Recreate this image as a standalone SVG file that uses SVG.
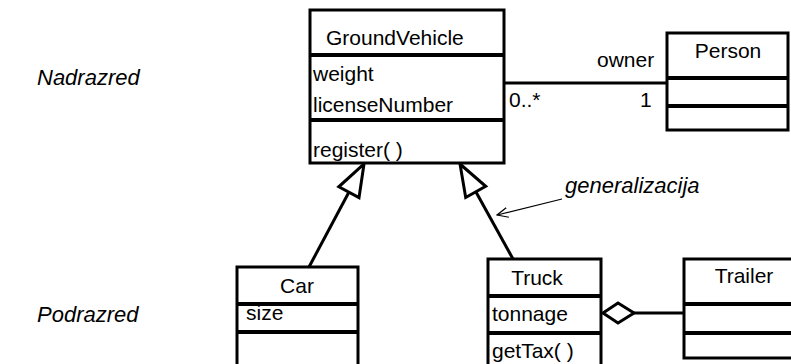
<svg xmlns="http://www.w3.org/2000/svg" width="791" height="364" viewBox="0 0 791 364">
<defs>
<style>
text{font-family:"Liberation Sans",Arial,sans-serif;font-size:21px;fill:#000}
.lbl{font-style:italic;font-size:22px}
.box{fill:#fff;stroke:#000;stroke-width:3}
.div{stroke:#000;stroke-width:4}
.ln{stroke:#000;stroke-width:3;fill:none}
.tri{fill:#fff;stroke:#000;stroke-width:3;stroke-linejoin:miter}
.thin{stroke:#000;stroke-width:1.2;fill:none}
</style>
<marker id="open" viewBox="0 0 12 12" refX="11" refY="6" markerWidth="12" markerHeight="12" markerUnits="userSpaceOnUse" orient="auto">
<path d="M0,1 L11,6 L0,11" fill="none" stroke="#000" stroke-width="1.2"/>
</marker>
</defs>
<rect width="791" height="364" fill="#fff"/>
<text class="lbl" x="37" y="85">Nadrazred</text>
<text class="lbl" x="37" y="322">Podrazred</text>
<g id="connectors">
<line class="ln" x1="504" y1="83" x2="667" y2="83"/>
<text x="597" y="67">owner</text>
<text x="509" y="107">0..*</text>
<text x="640" y="107">1</text>
<line class="ln" x1="349" y1="192" x2="309" y2="267"/>
<polygon class="tri" points="364,164 359,197.6 338.8,186.8"/>
<line class="ln" x1="476" y1="192" x2="513" y2="259"/>
<polygon class="tri" points="460,164 485.7,186.3 465.7,197.5"/>
<line class="ln" x1="634" y1="313" x2="684" y2="313"/>
<polygon class="tri" points="603,313 618,303 634,313 618,323"/>
<line class="thin" x1="562" y1="199" x2="497" y2="215" marker-end="url(#open)"/>
<text class="lbl" x="565" y="193">generalizacija</text>
</g>
<g id="GroundVehicle">
<rect class="box" x="310" y="10" width="194" height="153"/>
<line class="div" x1="310" y1="55" x2="504" y2="55"/>
<line class="div" x1="310" y1="120" x2="504" y2="120"/>
<text x="326" y="45">GroundVehicle</text>
<text x="313" y="81">weight</text>
<text x="313" y="112">licenseNumber</text>
<text x="313" y="157">register( )</text>
</g>
<g id="Person">
<rect class="box" x="667" y="33" width="121" height="97"/>
<line class="div" x1="667" y1="78" x2="788" y2="78"/>
<line class="div" x1="667" y1="106" x2="788" y2="106"/>
<text x="728" y="58" text-anchor="middle">Person</text>
</g>
<g id="Car">
<rect class="box" x="237" y="267" width="121" height="100"/>
<line class="div" x1="237" y1="304" x2="358" y2="304"/>
<line class="div" x1="237" y1="332" x2="358" y2="332"/>
<text x="297" y="293" text-anchor="middle">Car</text>
<text x="246" y="320">size</text>
</g>
<g id="Truck">
<rect class="box" x="488" y="259" width="113" height="108"/>
<line class="div" x1="488" y1="296" x2="601" y2="296"/>
<line class="div" x1="488" y1="333" x2="601" y2="333"/>
<text x="537" y="285" text-anchor="middle">Truck</text>
<text x="492" y="321">tonnage</text>
<text x="492" y="358">getTax( )</text>
</g>
<g id="Trailer">
<rect class="box" x="684" y="259" width="122" height="99"/>
<line class="div" x1="684" y1="304" x2="806" y2="304"/>
<line class="div" x1="684" y1="333" x2="806" y2="333"/>
<text x="744" y="283" text-anchor="middle">Trailer</text>
</g>
</svg>
